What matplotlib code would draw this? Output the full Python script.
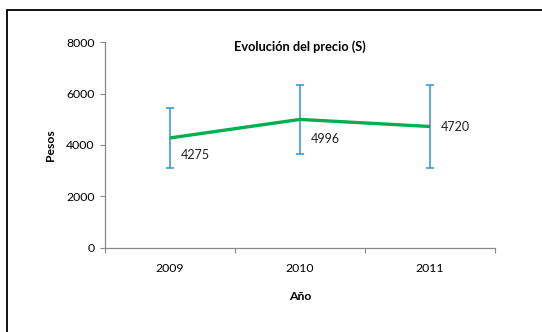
import matplotlib
matplotlib.use("Agg")
import matplotlib.pyplot as plt
from matplotlib.patches import Rectangle

years = ["2009", "2010", "2011"]
prices = [4275, 4996, 4720]
errors = [1160, 1330, 1630]
label_offsets = [(8, -12), (8, -14), (8, 0)]  # points, right/down of each point

plt.rcParams["font.family"] = ["Lato", "DejaVu Sans"]

fig = plt.figure(figsize=(5.42, 3.32), dpi=100)
ax = fig.add_axes([0.1937, 0.254, 0.7196, 0.6186])

x = list(range(1, len(years) + 1))
ax.errorbar(x, prices, yerr=errors, fmt="none", ecolor="#2B93D5",
            elinewidth=1.1, capsize=3, capthick=1.1, zorder=2)
ax.plot(x, prices, color="#00B050", linewidth=2.4, solid_capstyle="butt", zorder=3)

for xi, v, (dx, dy) in zip(x, prices, label_offsets):
    ax.annotate(f"{v}", (xi, v), xytext=(dx, dy), textcoords="offset points",
                ha="left", va="center", fontsize=9, color="#222222")

ax.set_xlim(0.5, 3.5)
ax.set_ylim(0, 8000)
ax.set_yticks([0, 2000, 4000, 6000, 8000])
ax.set_xticks(x)
ax.set_xticklabels(years)
ax.set_xticks([0.5, 1.5, 2.5, 3.5], minor=True)
ax.tick_params(axis="x", which="major", length=0, pad=11, labelsize=8.8)
ax.tick_params(axis="x", which="minor", length=3.5, width=0.8, color="#888888")
ax.tick_params(axis="y", length=3.5, width=0.8, color="#888888", pad=4, labelsize=8.8)

for side in ("top", "right"):
    ax.spines[side].set_visible(False)
for side in ("left", "bottom"):
    ax.spines[side].set_color("#888888")
    ax.spines[side].set_linewidth(0.9)

ax.set_xlabel("Año", fontsize=8.8, fontweight="bold", labelpad=12)
ax.set_ylabel("Pesos", fontsize=8.8, fontweight="bold", labelpad=7)
ax.set_title("Evolución del precio (S)", fontsize=9.2, fontweight="bold",
             y=0.92, x=0.5)

fig.patches.append(Rectangle((7 / 542, -0.1), 1.1, (332 - 10) / 332 + 0.1,
                             transform=fig.transFigure, fill=False,
                             edgecolor="black", linewidth=1.3))

fig.savefig("out.png", dpi=100)
